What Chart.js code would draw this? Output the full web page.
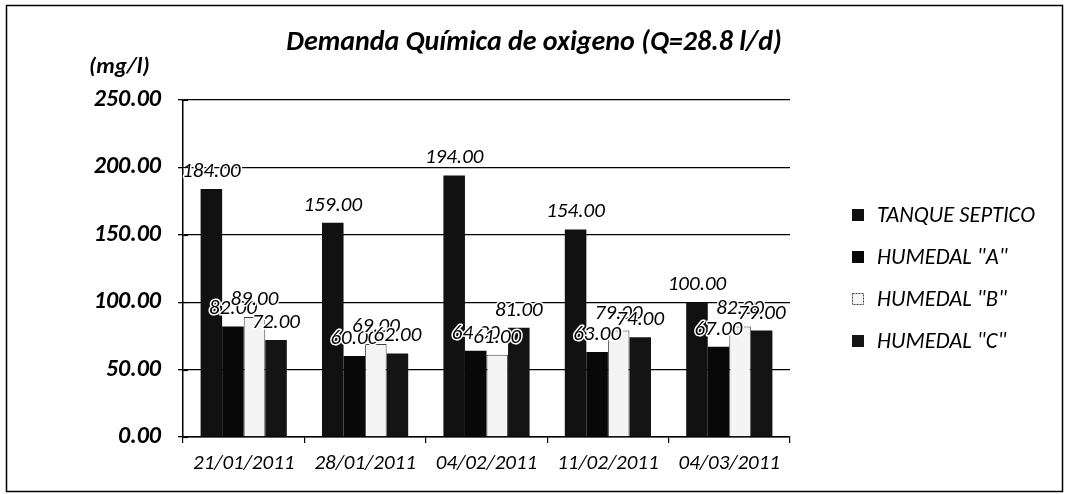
<!DOCTYPE html>
<html>
<head>
<meta charset="utf-8">
<script src="https://cdn.jsdelivr.net/npm/chart.js@4"></script>
<style>
html,body{margin:0;padding:0;background:#fff;}
#wrap{width:1069px;height:494px;position:relative;}
</style>
</head>
<body>
<div id="wrap"><canvas id="c" width="1069" height="494"></canvas></div>
<script>
const categories = ["21/01/2011","28/01/2011","04/02/2011","11/02/2011","04/03/2011"];
const tanqueSeptico = [184, 159, 194, 154, 100];
const humedalA = [82, 60, 64, 63, 67];
const humedalB = [89, 69, 61, 79, 82];
const humedalC = [72, 62, 81, 74, 79];
const seriesNames = ['TANQUE SEPTICO', 'HUMEDAL "A"', 'HUMEDAL "B"', 'HUMEDAL "C"'];
const yTicks = [0, 50, 100, 150, 200, 250];
const titleText = "Demanda Química de oxigeno (Q=28.8 l/d)";
const yUnit = "(mg/l)";

const FONT = "Carlito, Lato, sans-serif";
const fills = ["#111111", "#080808", "#f4f4f4", "#141414"];
const borders = ["#111111", "#080808", "#444444", "#141414"];

const decor = {
  id: 'decor',
  afterDatasetsDraw(chart) {
    const ctx = chart.ctx;
    ctx.save();
    ctx.font = "italic 21px " + FONT;
    ctx.textAlign = 'center';
    ctx.textBaseline = 'alphabetic';
    ctx.lineJoin = 'round';
    chart.data.datasets.forEach((ds, di) => {
      const meta = chart.getDatasetMeta(di);
      meta.data.forEach((bar, i) => {
        const txt = ds.data[i].toFixed(2);
        ctx.lineWidth = 3;
        ctx.strokeStyle = '#ffffff';
        ctx.strokeText(txt, bar.x, bar.y - 12);
        ctx.fillStyle = '#000';
        ctx.fillText(txt, bar.x, bar.y - 12);
      });
    });
    ctx.restore();
  },
  afterDraw(chart) {
    const ctx = chart.ctx;
    ctx.save();
    // outer frame
    ctx.strokeStyle = '#000';
    ctx.lineWidth = 1.5;
    ctx.strokeRect(6.5, 5.5, 1056, 486);
    // y tick marks crossing the axis (inner half)
    const ys = chart.scales.y;
    const left = chart.chartArea.left;
    ctx.lineWidth = 1.2;
    yTicks.forEach(v => {
      const py = Math.round(ys.getPixelForValue(v)) + 0.5;
      ctx.beginPath(); ctx.moveTo(left, py); ctx.lineTo(left + 5, py); ctx.stroke();
    });
    // title
    ctx.fillStyle = '#000';
    ctx.font = "italic bold 28px " + FONT;
    ctx.textAlign = 'center';
    ctx.textBaseline = 'middle';
    ctx.fillText(titleText, 534, 43);
    // unit
    ctx.font = "italic bold 23px " + FONT;
    ctx.textAlign = 'left';
    ctx.fillText(yUnit, 89, 67);
    // legend
    ctx.font = "italic 22.5px " + FONT;
    ctx.textBaseline = 'middle';
    const ly = [215, 257, 299, 341];
    chart.data.datasets.forEach((ds, di) => {
      const y = ly[di];
      ctx.fillStyle = fills[di];
      ctx.fillRect(852, y - 6, 12, 12);
      if (di === 2) {
        ctx.strokeStyle = '#444';
        ctx.lineWidth = 1;
        ctx.setLineDash([2, 1]);
        ctx.strokeRect(852.5, y - 5.5, 11, 11);
        ctx.setLineDash([]);
      }
      ctx.fillStyle = '#000';
      ctx.fillText(ds.label, 877, y + 1);
    });
    ctx.restore();
  }
};

new Chart(document.getElementById('c'), {
  type: 'bar',
  data: {
    labels: categories,
    datasets: [
      { label: seriesNames[0], data: tanqueSeptico, backgroundColor: fills[0], borderColor: borders[0], borderWidth: 0 },
      { label: seriesNames[1], data: humedalA, backgroundColor: fills[1], borderColor: borders[1], borderWidth: 0 },
      { label: seriesNames[2], data: humedalB, backgroundColor: fills[2], borderColor: borders[2], borderWidth: 1 },
      { label: seriesNames[3], data: humedalC, backgroundColor: fills[3], borderColor: borders[3], borderWidth: 0 }
    ]
  },
  options: {
    responsive: false,
    animation: false,
    layout: { padding: { top: 100, right: 279, bottom: 0, left: 0 } },
    plugins: { legend: { display: false }, title: { display: false }, tooltip: { enabled: false } },
    datasets: { bar: { barPercentage: 1.0, categoryPercentage: 0.71 } },
    scales: {
      x: {
        grid: { display: true, drawOnChartArea: false, drawTicks: true, tickLength: 6, color: '#000', lineWidth: 1.2, offset: true },
        border: { display: true, color: '#000', width: 1.5 },
        ticks: { color: '#000', font: { family: FONT, size: 21, style: 'italic' }, padding: 8, maxRotation: 0 },
        afterFit(scale) { scale.height = 57; }
      },
      y: {
        min: 0, max: 250,
        afterBuildTicks(scale) { scale.ticks = yTicks.map(v => ({ value: v })); },
        grid: { display: true, color: '#000', lineWidth: 1.3, drawTicks: true, tickLength: 5 },
        border: { display: true, color: '#000', width: 1.5 },
        ticks: { color: '#000', font: { family: FONT, size: 24, style: 'italic', weight: 'bold' }, padding: 17,
                 callback: v => Number(v).toFixed(2) },
        afterFit(scale) { scale.width = 183; }
      }
    }
  },
  plugins: [decor]
});
</script>
</body>
</html>
